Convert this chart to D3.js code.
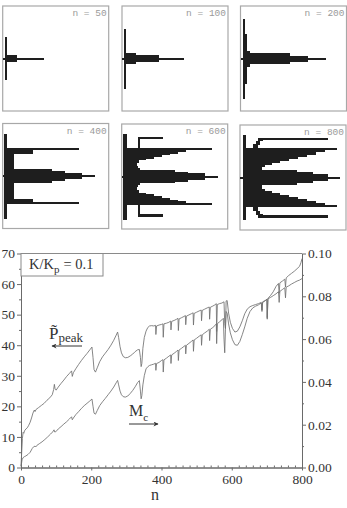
<!DOCTYPE html>
<html><head><meta charset="utf-8">
<script src="https://cdn.jsdelivr.net/npm/d3@7"></script>
<style>body{margin:0;background:#fff}svg{display:block}</style>
</head><body>
<svg id="c" width="347" height="508"></svg>
<script>
// ---------- data ----------
const nTicks = [0, 200, 400, 600, 800];
const pTicks = [0, 10, 20, 30, 40, 50, 60, 70];
const mTicks = [0, 0.02, 0.04, 0.06, 0.08, 0.10];
const pMinorTicks = [5, 15, 25, 35, 45, 55, 65];
const mMinorTicks = [0.01, 0.03, 0.05, 0.07, 0.09];
const nMinorTicks = [20,40,60,80,100,120,140,160,180,220,240,260,280,300,320,340,360,380,420,440,460,480,500,520,540,560,580,620,640,660,680,700,720,740,760,780];

const pPeak = [[0,0.5],[2,5],[4,9.5],[6,11.5],[8,11.2],[10,12],[14,12.6],[18,13],[22,13.8],[26,14.8],[30,16.2],[34,17.8],[38,18.8],[40,18.3],[43,19],[50,19.6],[58,20.3],[66,21],[74,22],[82,22.8],[89,23.8],[93,25.5],[95,27.2],[97,25.8],[100,25.3],[106,26.3],[114,27.5],[122,28.6],[130,29.8],[138,30.8],[144,31.6],[146,29.8],[149,31],[156,32.3],[164,33.7],[172,35],[180,36.2],[188,37.3],[196,38.5],[202,39.4],[205,36],[208,32],[212,31.2],[217,32.6],[224,34.6],[232,36.2],[240,37.4],[248,38.6],[256,40],[264,41.6],[271,43.3],[275,44.3],[278,42.5],[282,39.5],[286,37.5],[291,36.3],[297,35.9],[304,36],[311,36.5],[318,37.1],[325,37.9],[332,38.5],[337,38.6],[340,36],[342,33],[344,34],[347,39],[351,42.5],[356,44.6],[361,45.8],[366,46.3],[372,46.4],[378,46.3],[383,46.5],[384,43.5],[386,46.3],[393,46.6],[400,46.8],[404,47],[405,42.6],[407,47],[414,47.2],[421,47.5],[426,47.9],[427,45],[429,47.8],[436,48.1],[443,48.5],[447,48.8],[448,44.8],[450,48.6],[457,49],[464,49.4],[468,49.7],[469,46.7],[471,49.5],[478,49.9],[485,50.3],[490,50.6],[491,46.6],[493,50.4],[500,50.8],[507,51.2],[513,51.5],[514,48],[516,51.4],[523,51.8],[530,52.2],[536,52.5],[537,48.5],[539,52.4],[546,52.8],[552,53.2],[556,53.6],[557,44.5],[559,53.3],[565,53.6],[572,53.8],[578,54.2],[580,47],[582,45.5],[584,54.5],[587,54.6],[591,50.5],[596,47.5],[602,45.5],[609,44.3],[616,44.6],[623,46],[630,48],[637,50.3],[644,51.8],[652,52.6],[660,53],[668,53.3],[676,53.6],[684,54],[686,51.5],[688,54.2],[695,54.6],[700,55],[701,49],[703,55.2],[710,55.6],[718,56.2],[726,56.8],[733,57.5],[735,54],[737,57.6],[744,58.2],[751,58.8],[753,55.5],[755,59],[762,59.4],[770,60],[778,60.5],[786,61],[793,61.3],[800,61.8]];

const mC = [[0,0.0004],[3,0.0036],[6,0.0046],[10,0.0051],[14,0.0054],[20,0.0061],[26,0.0071],[32,0.0089],[36,0.0097],[40,0.0100],[42,0.0096],[45,0.0103],[52,0.0111],[60,0.0120],[68,0.0131],[76,0.0143],[84,0.0156],[90,0.0166],[94,0.0176],[96,0.0166],[99,0.0167],[106,0.0180],[114,0.0191],[122,0.0203],[130,0.0214],[138,0.0227],[144,0.0237],[146,0.0223],[149,0.0231],[156,0.0247],[164,0.0261],[172,0.0276],[180,0.0289],[188,0.0300],[196,0.0311],[202,0.0320],[205,0.0286],[208,0.0254],[212,0.0249],[217,0.0266],[224,0.0289],[232,0.0307],[240,0.0323],[248,0.0340],[256,0.0357],[264,0.0376],[271,0.0396],[275,0.0407],[278,0.0386],[282,0.0357],[286,0.0340],[291,0.0331],[297,0.0329],[304,0.0334],[311,0.0346],[318,0.0360],[325,0.0377],[332,0.0397],[337,0.0406],[340,0.0357],[342,0.0321],[344,0.0336],[347,0.0386],[351,0.0429],[356,0.0461],[361,0.0471],[366,0.0477],[372,0.0480],[378,0.0483],[383,0.0487],[384,0.0454],[386,0.0486],[393,0.0491],[400,0.0500],[404,0.0504],[405,0.0446],[407,0.0503],[414,0.0511],[421,0.0520],[426,0.0526],[427,0.0486],[429,0.0526],[436,0.0534],[443,0.0543],[447,0.0549],[448,0.0500],[450,0.0549],[457,0.0557],[464,0.0566],[468,0.0571],[469,0.0531],[471,0.0571],[478,0.0580],[485,0.0589],[490,0.0596],[491,0.0543],[493,0.0596],[500,0.0604],[507,0.0613],[513,0.0620],[514,0.0571],[516,0.0620],[523,0.0629],[530,0.0637],[536,0.0646],[537,0.0593],[539,0.0646],[546,0.0654],[552,0.0663],[556,0.0671],[557,0.0579],[559,0.0671],[565,0.0681],[572,0.0690],[576,0.0697],[578,0.0600],[580,0.0536],[582,0.0643],[584,0.0729],[587,0.0721],[591,0.0671],[596,0.0629],[602,0.0597],[609,0.0574],[616,0.0571],[623,0.0589],[630,0.0621],[637,0.0657],[644,0.0697],[652,0.0729],[660,0.0746],[668,0.0754],[676,0.0760],[684,0.0769],[686,0.0729],[688,0.0771],[695,0.0779],[700,0.0786],[701,0.0693],[703,0.0790],[710,0.0803],[718,0.0821],[726,0.0846],[733,0.0860],[735,0.0814],[737,0.0863],[744,0.0871],[751,0.0880],[753,0.0843],[755,0.0886],[762,0.0897],[770,0.0907],[778,0.0917],[786,0.0929],[793,0.0940],[797,0.0957],[800,0.0976]];

// cluster snapshots: rects [x0, x1, yTop, yBottom] in the upper half; yBottom 0 = symmetric about the axis
const panelN = [50, 100, 200, 400, 600, 800];
const cluster50 = [[0.6,41.3,-1,0],[2.3,4.3,-21.5,0],[3.3,14.5,-3.5,0]];
const cluster100 = [[0,62,-1,0],[2,4,-30,0],[2.7,14.4,-5.3,0],[14.4,37,-3.3,0]];
const cluster200 = [[0,85.7,-1,0],[2.3,4.7,-40,0],[2.3,6.3,-25,0],[2.3,9,-8,0],[4,49,-5.3,0],[49,67,-3,0]];
const cluster400 = [[0,92.3,-1,0],[1.3,4.6,-42.5,0],[2.3,11.3,-28.2,0],[2.3,76.6,-28.2,-26.2],[2.3,30.7,-28.2,-22.5],[4,49.6,-7.2,0],[49.6,62.3,-5,0],[62.3,79,-3.4,0]];
const cluster600 = [[0,96.6,-1,0],[1.6,5,-43,0],[16.6,41.6,-40,-37.8],[16,18.3,-40,-28.3],[1.6,90,-28.3,-26.3],[1.6,64,-28.3,-24.8],[1.6,56,-28.3,-23],[1.6,48,-28.3,-21.3],[1.6,40,-28.3,-19.6],[1.6,32,-28.3,-17.9],[1.6,24,-28.3,-16.2],[1.6,17.5,-28.3,-13.5],[1.6,15.5,-28.3,0],[1.6,16.5,-10.5,0],[1.6,18.5,-8.5,0],[1.6,53.3,-6.7,0],[53.3,66.6,-5,0],[66.6,83.3,-3.2,0]];
const cluster800 = [[0,100,-1,0],[3.3,5.7,-42.5,0],[20.7,88.3,-40,-37.8],[18,22.5,-40,-36.5],[15.5,20,-37,-33],[13,17.5,-33.5,-29.5],[3.3,96.7,-29.5,-27.3],[3.3,85,-29.5,-25.2],[3.3,76,-29.5,-23],[3.3,67,-29.5,-21],[3.3,58,-29.5,-19],[3.3,49,-29.5,-17],[3.3,40,-29.5,-15],[3.3,32,-29.5,-13],[3.3,25,-29.5,-11],[3.3,21.7,-29.5,0],[3.3,56.7,-7.8,0],[56.7,73.3,-5.5,0],[73.3,88.3,-3.4,0]];
const clusters = [cluster50, cluster100, cluster200, cluster400, cluster600, cluster800];

// ---------- layout ----------
const svg = d3.select("#c");
const panelPos = [[2.7,6],[122,6],[240.5,6],[2.7,123.5],[121.7,124],[240,125]];
const PW = 106, PH = 105;
const mono = "'Liberation Mono', 'DejaVu Sans Mono', monospace";
const serif = "'Liberation Serif', 'Times New Roman', serif";

panelN.forEach((n, i) => {
  const [px, py] = panelPos[i];
  const sx = d3.scaleLinear().domain([0, 106]).range([px, px + PW]);
  const sy = d3.scaleLinear().domain([-52.5, 52.5]).range([py, py + PH]);
  const g = svg.append("g");
  g.append("rect").attr("x", px).attr("y", py).attr("width", PW).attr("height", PH)
    .attr("fill", "#fff").attr("stroke", "#a8a8a8").attr("stroke-width", 1.2);
  const rects = [];
  clusters[i].forEach(r => {
    if (r[3] === 0) rects.push([r[0], r[1], r[2], -r[2]]);
    else { rects.push([r[0], r[1], r[2], r[3]]); rects.push([r[0], r[1], -r[3], -r[2]]); }
  });
  g.selectAll("rect.c").data(rects).join("rect").attr("class", "c")
    .attr("x", d => sx(d[0])).attr("width", d => sx(d[1]) - sx(d[0]))
    .attr("y", d => sy(d[2])).attr("height", d => sy(d[3]) - sy(d[2]))
    .attr("fill", "#1e1e1e").attr("shape-rendering", "crispEdges");
  g.append("text").attr("x", px + PW - 2).attr("y", py + 10)
    .attr("text-anchor", "end").style("font-family", mono)
    .attr("font-size", 9.5).attr("fill", "#9a9a9a").text("n = " + n);
});

// ---------- main chart ----------
const x = d3.scaleLinear().domain([0, 800]).range([21, 302]);
const yL = d3.scaleLinear().domain([0, 70]).range([467.5, 253.5]);
const yR = d3.scaleLinear().domain([0, 0.10]).range([467.5, 253.5]);
const axisColor = "#6a6a6a", textColor = "#333";

function styleAxis(g) {
  g.selectAll("path.domain").attr("stroke", axisColor);
  g.selectAll(".tick line").attr("stroke", axisColor);
  g.selectAll(".tick text").attr("fill", textColor).style("font-family", serif).attr("font-size", 13.5);
}

svg.append("line").attr("x1", x(0)).attr("x2", x(800)).attr("y1", yL(70)).attr("y2", yL(70))
  .attr("stroke", "#8a8a8a");

svg.append("g").attr("transform", `translate(${x(0)},0)`)
  .call(d3.axisLeft(yL).tickValues(pTicks).tickSize(4).tickSizeOuter(0).tickPadding(2).tickFormat(d3.format("d"))).call(styleAxis);
svg.append("g").attr("transform", `translate(${x(0)},0)`)
  .call(d3.axisLeft(yL).tickValues(pMinorTicks).tickSize(2).tickSizeOuter(0).tickFormat("")).call(styleAxis);

svg.append("g").attr("transform", `translate(${x(800)},0)`)
  .call(d3.axisRight(yR).tickValues(mTicks).tickSize(4).tickSizeOuter(0).tickPadding(2).tickFormat(d3.format(".2f"))).call(styleAxis);
svg.append("g").attr("transform", `translate(${x(800)},0)`)
  .call(d3.axisRight(yR).tickValues(mMinorTicks).tickSize(2).tickSizeOuter(0).tickFormat("")).call(styleAxis);

svg.append("g").attr("transform", `translate(0,${yL(0)})`)
  .call(d3.axisBottom(x).tickValues(nTicks).tickSize(3).tickSizeOuter(0).tickPadding(4).tickFormat(d3.format("d"))).call(styleAxis);
svg.append("g").attr("transform", `translate(0,${yL(0)})`)
  .call(d3.axisBottom(x).tickValues(nMinorTicks).tickSize(-2).tickSizeOuter(0).tickFormat("")).call(styleAxis);

// curves
const lineP = d3.line().x(d => x(d[0])).y(d => yL(d[1]));
const lineM = d3.line().x(d => x(d[0])).y(d => yR(d[1]));
svg.append("path").datum(pPeak).attr("d", lineP).attr("fill", "none").attr("stroke", "#707070").attr("stroke-width", 0.85);
svg.append("path").datum(mC).attr("d", lineM).attr("fill", "none").attr("stroke", "#707070").attr("stroke-width", 0.85);

// legend box
svg.append("rect").attr("x", x(0)).attr("y", yL(70)).attr("width", 82).attr("height", 22.5)
  .attr("fill", "#fff").attr("stroke", "#8a8a8a");
const kt = svg.append("text").attr("x", 29).attr("y", 268.5).style("font-family", serif)
  .attr("font-size", 14.5).attr("fill", textColor);
kt.append("tspan").text("K/K");
kt.append("tspan").attr("dy", 4).attr("font-size", 11).text("p");
kt.append("tspan").attr("dy", -4).attr("dx", 4).text("= 0.1");

// P_peak label
const pt = svg.append("text").attr("x", 49).attr("y", 339).style("font-family", serif)
  .attr("font-size", 17).attr("fill", textColor);
pt.append("tspan").text("P\u0303");
pt.append("tspan").attr("dy", 3).attr("font-size", 13).text("peak");

// M_c label
const mt = svg.append("text").attr("x", 129).attr("y", 416).style("font-family", serif)
  .attr("font-size", 16).attr("fill", textColor);
mt.append("tspan").text("M");
mt.append("tspan").attr("dy", 5).attr("font-size", 11).text("c");

// arrows
const defs = svg.append("defs");
defs.append("marker").attr("id", "ah").attr("viewBox", "0 0 10 10").attr("refX", 9).attr("refY", 5)
  .attr("markerWidth", 7).attr("markerHeight", 5).attr("orient", "auto-start-reverse")
  .append("path").attr("d", "M0,0L10,5L0,10L3,5Z").attr("fill", "#333");
svg.append("line").attr("x1", 82).attr("x2", 52).attr("y1", 346).attr("y2", 346)
  .attr("stroke", "#333").attr("stroke-width", 1).attr("marker-end", "url(#ah)");
svg.append("line").attr("x1", 129).attr("x2", 158).attr("y1", 424).attr("y2", 424)
  .attr("stroke", "#333").attr("stroke-width", 1).attr("marker-end", "url(#ah)");

// axis title
svg.append("text").attr("x", 155).attr("y", 500).attr("text-anchor", "middle")
  .style("font-family", serif).attr("font-size", 16).attr("fill", textColor).text("n");
</script>
</body></html>
